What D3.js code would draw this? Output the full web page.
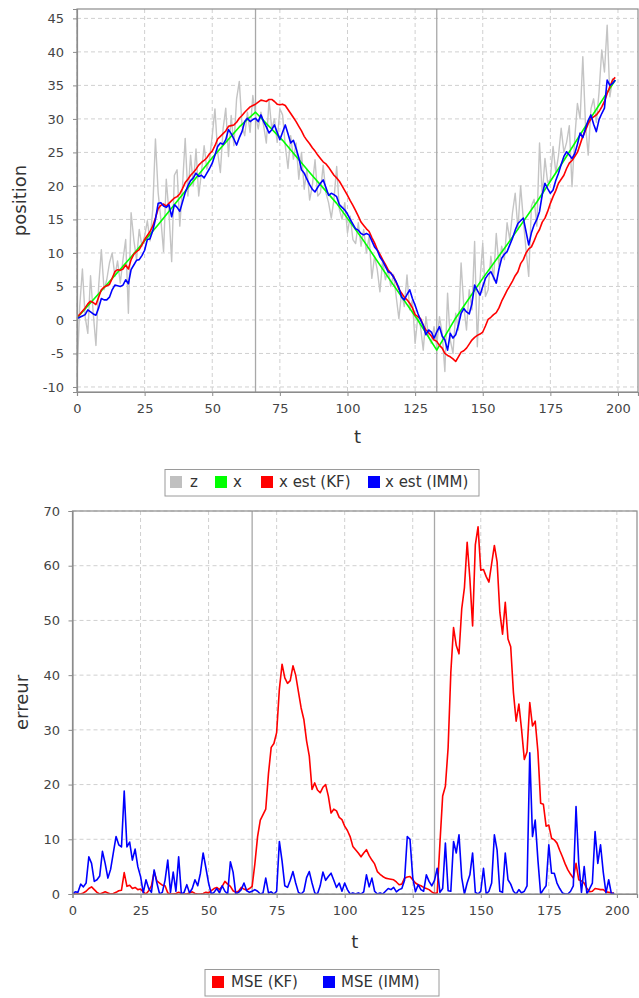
<!DOCTYPE html>
<html>
<head>
<meta charset="utf-8">
<script src="https://cdn.jsdelivr.net/npm/d3@7"></script>
<style>
  body { margin: 0; background: #fff; }
  svg { display: block; }
</style>
</head>
<body>
<svg id="chart" width="639" height="998"></svg>
<script>
// ---- time axis ----
const steps = d3.range(200);
const switchTimes = [66, 133];
const xTicks = [0, 25, 50, 75, 100, 125, 150, 175, 200];

// ---- position panel ----
const posTicks = [-10, -5, 0, 5, 10, 15, 20, 25, 30, 35, 40, 45];

// measurements z
const zMeas = [
  -8.5, 2.0, 7.6, 0.5, -2.0, 6.6, 1.0, -3.8, 5.0, 10.5, 4.5,
  6.0, 8.5, 10.0, 6.5, 8.8, 5.5, 9.0, 12.0, 1.0, 16.0,
  12.0, 9.0, 13.5, 11.0, 12.5, 14.8, 11.8, 16.5, 27.0, 19.0,
  15.0, 10.2, 21.0, 16.0, 8.7, 21.6, 22.4, 14.0, 20.0, 27.1,
  18.5, 24.6, 20.0, 25.5, 18.5, 22.0, 26.0, 22.5, 24.0, 27.5,
  31.5, 25.0, 22.0, 28.5, 31.6, 24.4, 30.5, 26.0, 33.0, 35.6,
  29.0, 27.5, 31.0, 28.0, 33.5, 30.5, 28.5, 31.0, 29.0, 26.4,
  32.8, 28.5, 30.0, 26.5, 31.5, 30.6, 26.0, 22.6, 27.5, 24.0,
  26.4, 21.0, 25.0, 19.5, 22.5, 17.9, 20.0, 23.9, 18.5, 19.0,
  23.1, 19.0, 17.5, 15.2, 18.0, 22.9, 16.5, 15.0, 17.5, 13.0,
  15.5, 12.0, 11.4, 14.5, 11.0, 13.5, 10.0, 12.5, 6.2, 9.5,
  7.5, 4.2, 9.0, 6.0, 7.5, 5.0, 6.8, 3.5, 0.2, 4.0,
  2.0, 6.7, 1.5, 3.0, -3.5, 0.5, -1.0, -4.5, 0.5, -2.5,
  -3.5, -1.0, -4.0, 0.5, -2.0, -7.7, 4.0, -3.0, -5.0, 1.0,
  -1.5, 8.5, 2.0, -1.5, 4.5, 1.5, 11.7, -4.0, 6.0, 11.4,
  3.5, 4.5, 9.5, 6.0, 12.9, 8.0, 11.0, 9.0, 14.5, 12.0,
  16.0, 18.9, 13.5, 20.0, 15.0, 10.5, 6.5, 17.0, 18.0, 14.0,
  26.4, 18.5, 24.1, 20.5, 21.0, 25.9, 22.0, 24.5, 28.6, 25.0,
  26.5, 29.0, 19.9, 27.0, 32.3, 30.0, 39.3, 29.0, 24.6, 31.5,
  33.0, 29.5, 34.0, 40.3, 37.0, 44.0, 33.3, 36.0, 35.5
];

// true position x (read at these steps)
const xTrueT = [0, 10, 20, 30, 40, 50, 60, 66, 76, 86, 96, 106, 116, 126, 133, 140, 150, 160, 170, 180, 190, 199];
const xTrueV = [0.3, 4.8, 9.4, 14.2, 19.2, 24.2, 28.8, 31.0, 26.8, 22.0, 17.4, 11.8, 5.8, 0.0, -4.5, 0.3, 6.2, 11.8, 17.6, 23.8, 30.2, 35.8];

// Kalman filter estimate
const xKF = [
  0.5, 0.8, 1.3, 1.8, 2.4, 2.8, 2.6, 2.3, 3.4, 4.5, 4.9,
  5.1, 5.3, 6.2, 7.2, 7.5, 7.4, 7.6, 8.2, 7.6, 9.0,
  9.8, 10.2, 10.5, 11.2, 12.0, 12.6, 13.2, 14.0, 15.2, 16.6,
  17.1, 17.3, 17.0, 17.4, 17.8, 18.2, 18.4, 18.8, 19.6, 20.5,
  21.0, 21.6, 22.0, 22.5, 23.1, 23.5, 23.8, 24.2, 24.8, 25.2,
  26.0, 27.0, 27.4, 27.8, 28.2, 28.9, 29.0, 29.1, 29.5, 30.1,
  30.5, 31.0, 31.4, 31.8, 32.0, 32.2, 32.5, 32.8, 32.7, 32.6,
  32.9, 32.9, 32.6, 32.2, 32.1, 32.2, 32.0, 31.4, 30.8, 30.2,
  29.6, 28.9, 28.2, 27.4, 26.8, 26.3, 25.7, 25.2, 24.6, 24.1,
  23.6, 23.3, 22.8, 22.2, 21.6, 21.2, 20.7, 20.0, 19.3, 18.6,
  17.8, 17.1, 16.3, 15.5, 14.6, 14.1, 13.6, 13.2, 12.3, 11.5,
  10.5, 9.8, 9.0, 8.3, 7.5, 7.0, 6.5, 5.6, 4.6, 4.0,
  3.4, 3.0, 2.5, 1.8, 0.8, 0.5, 0.2, -0.8, -1.5, -1.9,
  -2.4, -3.0, -3.2, -3.8, -4.2, -5.0, -5.3, -5.5, -5.8, -6.2,
  -5.5, -4.8, -4.6, -4.2, -3.6, -3.0, -2.6, -2.3, -2.1, -1.8,
  -0.9, 0.1, 0.4, 0.8, 1.1, 1.8, 2.8, 3.6, 4.4, 5.1,
  5.8, 6.6, 7.2, 8.4, 9.0, 10.0, 10.6, 10.9, 11.8, 12.8,
  13.5, 14.6, 15.2, 16.2, 17.4, 18.4, 19.3, 20.4, 21.0, 21.6,
  22.6, 23.4, 23.8, 24.4, 25.0, 26.2, 27.4, 28.3, 29.3, 30.0,
  30.3, 30.6, 31.1, 31.8, 32.6, 33.8, 34.8, 35.8, 36.2
];

// IMM estimate
const xIMM = [
  0.2, 0.4, 0.6, 0.8, 1.5, 1.2, 0.9, 0.7, 1.8, 3.2, 3.0,
  3.0, 3.4, 4.5, 5.2, 5.1, 5.0, 5.2, 6.0, 5.4, 7.5,
  8.2, 8.9, 9.0, 9.6, 10.4, 12.0, 12.1, 13.3, 15.0, 17.4,
  17.5, 17.0, 16.8, 17.2, 15.4, 17.2, 16.8, 16.2, 17.6, 19.0,
  20.0, 20.8, 21.2, 21.9, 21.4, 21.6, 21.2, 21.9, 22.6, 23.4,
  24.6, 25.9, 26.4, 26.2, 26.9, 28.4, 27.8, 27.0, 26.1, 27.2,
  28.1, 29.6, 30.1, 29.6, 29.9, 30.1, 29.6, 30.6, 29.6, 28.8,
  27.9, 28.4, 29.1, 28.0, 26.9, 28.0, 29.1, 27.8, 26.4, 26.8,
  25.6, 24.2, 22.4, 21.9, 21.0, 20.2, 19.5, 19.1, 19.8, 20.4,
  20.9, 19.8, 18.6, 18.9, 18.7, 18.4, 17.2, 16.8, 16.4, 15.8,
  15.0, 14.3, 13.6, 13.4, 12.9, 12.7, 12.9, 12.7, 11.8, 10.9,
  10.4, 9.4, 8.8, 8.0, 7.2, 7.0, 6.4, 5.7, 4.8, 3.4,
  3.0, 3.8, 4.5, 3.2, 2.2, 1.0, 0.0, -0.8, -2.2, -1.5,
  -1.8, -2.7, -1.8, -1.0, -2.4, -3.0, -4.5, -2.0, -2.7, -2.2,
  -0.8, 1.0, 1.7, 1.2, 0.9, 2.4, 5.2, 4.4, 3.7, 5.0,
  6.2, 6.8, 7.2, 6.4, 5.5, 7.6, 9.2, 9.8, 10.2, 11.2,
  12.2, 13.4, 14.4, 14.8, 15.2, 13.2, 11.2, 13.0, 14.2, 15.0,
  16.2, 18.7, 20.4, 19.6, 18.9, 19.4, 20.8, 21.9, 23.2, 24.4,
  25.1, 24.6, 24.1, 24.8, 26.2, 27.9, 27.2, 28.6, 29.8, 30.6,
  29.2, 28.1, 29.9, 30.8, 31.6, 35.8, 35.0, 35.3, 35.8
];

// ---- error panel ----
const errTicks = [0, 10, 20, 30, 40, 50, 60, 70];

const mseKF = [
  0, 0, 0, 0, 0.2, 0.5, 1.0, 1.3, 0.8, 0.3, 0,
  0.2, 0.4, 0.2, 0, 0.1, 0.3, 0.6, 0.7, 3.9, 1.4,
  1.6, 1.0, 1.2, 0.8, 0.9, 0.4, 0, 0.6, 1.5, 4.1,
  2.4, 2.0, 1.6, 1.5, 0.2, 0, 0, 0.1, 0.3, 0.1,
  0, 0, 0.2, 0.4, 0.1, 0, 0, 0.1, 0.3, 0.2,
  0.6, 1.0, 1.2, 0.8, 1.4, 2.3, 1.8, 1.4, 0.6, 0.3,
  0.5, 1.2, 0.9, 0.7, 1.0, 1.4, 5.5, 10.5, 13.5, 14.5,
  15.5, 22.0, 26.8, 27.5, 29.5, 37.4, 42.0, 39.5, 38.5, 39.0,
  41.7, 40.0, 37.0, 34.0, 31.9, 28.0, 25.2, 19.1, 20.3, 19.0,
  18.5, 19.5, 20.0, 17.9, 14.8, 15.5, 15.2, 14.0, 13.6, 12.4,
  11.6, 10.5, 8.7, 8.1, 7.5, 6.8, 7.5, 8.1, 7.0, 6.2,
  5.5, 4.1, 3.6, 3.2, 2.9, 2.8, 2.7, 2.6, 2.2, 1.7,
  1.8, 2.9, 3.1, 3.2, 2.6, 2.0, 1.7, 1.5, 1.2, 1.0,
  0.8, 0.4, 0.1, 0.2, 9.3, 17.9, 19.7, 26.7, 40.5, 48.7,
  45.4, 43.9, 52.1, 56.0, 64.3, 57.6, 49.0, 63.8, 67.1, 59.2,
  59.3, 58.0, 57.0, 60.4, 63.7, 60.7, 51.5, 47.5, 53.3, 46.6,
  45.2, 36.8, 31.6, 34.7, 30.0, 24.6, 26.0, 35.0, 30.7, 31.6,
  26.0, 16.6, 16.4, 12.4, 12.6, 10.2, 9.9, 9.3, 8.0, 6.8,
  5.5, 4.4, 3.6, 2.9, 5.6, 2.6, 2.4, 2.0, 1.0, 0.4,
  0.5, 1.0, 0.9, 0.8, 0.8, 0.4, 0.3, 0.2, 0.1
];

const mseIMM = [
  0, 0.4, 0.3, 1.8, 1.3, 2.0, 6.8, 5.6, 2.3, 2.6, 3.3,
  7.8, 5.6, 2.9, 4.5, 7.5, 10.5, 9.0, 8.6, 18.8, 8.6,
  9.5, 6.2, 8.2, 5.0, 3.2, 0.2, 2.6, 1.0, 0.3, 4.4,
  2.0, 0, 0.3, 2.5, 6.2, 0.3, 4.0, 0.5, 6.8, 0,
  0.3, 1.7, 0.2, 1.0, 2.6, 1.5, 3.8, 7.5, 4.8, 2.0,
  0, 0.3, 1.0, 0.2, 1.5, 0.5, 0, 5.9, 4.0, 0,
  0.3, 0.8, 2.0, 0.6, 0.3, 0.5, 0.8, 0.5, 0, 0.2,
  2.9, 0.2, 0.4, 0, 0.5, 9.6, 6.0, 1.5, 1.2, 2.5,
  4.1, 2.0, 0.3, 0, 0.5, 3.0, 4.1, 2.0, 0.2, 0,
  1.5, 4.0, 2.5, 3.2, 3.8, 2.5, 1.2, 2.0, 0.5, 2.0,
  0.8, 0, 0.2, 0, 0.2, 0, 0.4, 3.5, 1.3, 2.9,
  0.5, 0, 0.2, 0, 0.5, 1.0, 0.8, 1.2, 0.4, 0.8,
  1.0, 2.5, 10.5, 10.0, 3.0, 0.4, 1.7, 0.8, 0.5, 3.5,
  2.3, 1.5, 2.5, 4.7, 0.3, 1.0, 9.3, 0.6, 0.5, 9.6,
  7.5, 10.8, 3.0, 0, 2.0, 3.5, 7.5, 0.3, 0, 0.5,
  4.7, 0, 0.5, 2.0, 10.8, 8.0, 0.5, 0.3, 7.5, 2.6,
  1.8, 0.5, 0, 0.8, 0.2, 0.5, 1.5, 25.8, 10.5, 13.5,
  6.2, 0, 0.8, 1.5, 9.0, 3.8, 3.8, 2.0, 1.0, 0.2,
  0, 0, 0.5, 1.5, 16.0, 5.6, 0.3, 5.0, 0, 1.0,
  2.0, 11.4, 5.6, 9.0, 4.0, 0.2, 2.6, 0, 0.2
];

// ---- drawing ----
const FONT = '"DejaVu Sans", Verdana, sans-serif';
const svg = d3.select("#chart").style("font-family", FONT);
svg.append("rect").attr("width", 639).attr("height", 998).attr("fill", "#fff");

function drawPanel(o) {
  const x = d3.scaleLinear().domain(o.xDomain).range([o.left, o.right]);
  const y = d3.scaleLinear().domain(o.yDomain).range([o.bottom, o.top]);
  const g = svg.append("g");

  // dashed grid
  g.append("g").selectAll("line").data(o.xTicks).join("line")
    .attr("x1", d => x(d)).attr("x2", d => x(d))
    .attr("y1", o.top).attr("y2", o.bottom)
    .attr("stroke", "#d0d0d0").attr("stroke-dasharray", "4,3");
  g.append("g").selectAll("line").data(o.yTicks).join("line")
    .attr("x1", o.left).attr("x2", o.right)
    .attr("y1", d => y(d)).attr("y2", d => y(d))
    .attr("stroke", "#d0d0d0").attr("stroke-dasharray", "4,3");

  // regime switch markers
  g.append("g").selectAll("line").data(switchTimes).join("line")
    .attr("x1", d => x(d)).attr("x2", d => x(d))
    .attr("y1", o.top).attr("y2", o.bottom)
    .attr("stroke", "#a8a8a8").attr("stroke-width", 1.3);

  // series
  const clipId = "clip" + o.id;
  svg.append("clipPath").attr("id", clipId).append("rect")
    .attr("x", o.left).attr("y", o.top)
    .attr("width", o.right - o.left).attr("height", o.bottom - o.top);
  const sg = g.append("g").attr("clip-path", `url(#${clipId})`);
  o.series.forEach(s => {
    const line = d3.line().x(d => x(d[0])).y(d => y(d[1]));
    sg.append("path")
      .datum(s.t.map((t, i) => [t, s.v[i]]))
      .attr("d", line)
      .attr("fill", "none")
      .attr("stroke", s.color)
      .attr("stroke-width", s.width || 1.5)
      .attr("stroke-linejoin", "round");
  });

  // plot outline
  g.append("rect")
    .attr("x", o.left).attr("y", o.top)
    .attr("width", o.right - o.left).attr("height", o.bottom - o.top)
    .attr("fill", "none").attr("stroke", "#8c8c8c").attr("stroke-width", 1.2);

  // axes
  const ax = g.append("g").attr("transform", `translate(0,${o.bottom})`)
    .call(d3.axisBottom(x).tickValues(o.xTicks).tickSize(4).tickPadding(8)
      .tickFormat(d => String(d)));
  const ay = g.append("g").attr("transform", `translate(${o.left},0)`)
    .call(d3.axisLeft(y).tickValues(o.yTicks).tickSize(4).tickPadding(o.yPad)
      .tickFormat(d => String(d)));
  [ax, ay].forEach(a => {
    a.select(".domain").attr("stroke", "#8c8c8c").attr("stroke-width", 1.2);
    a.selectAll(".tick line").attr("stroke", "#8c8c8c");
    a.selectAll(".tick text").attr("fill", "#444").attr("font-size", 13)
      .attr("font-family", FONT);
  });

  // axis titles
  g.append("text")
    .attr("x", (o.left + o.right) / 2).attr("y", o.xTitleY)
    .attr("text-anchor", "middle").attr("font-size", 18).attr("fill", "#333")
    .text(o.xTitle);
  g.append("text")
    .attr("transform", `translate(${o.yTitleX},${(o.top + o.bottom) / 2}) rotate(-90)`)
    .attr("text-anchor", "middle").attr("font-size", 18).attr("fill", "#333")
    .text(o.yTitle);

  // legend
  const lg = g.append("g");
  lg.append("rect")
    .attr("x", o.legend.x).attr("y", o.legend.y)
    .attr("width", o.legend.w).attr("height", o.legend.h)
    .attr("fill", "#fff").attr("stroke", "#9a9a9a");
  o.legend.items.forEach(it => {
    lg.append("rect")
      .attr("x", it.sx).attr("y", o.legend.y + 6.5)
      .attr("width", 12).attr("height", 12).attr("fill", it.color);
    lg.append("text")
      .attr("x", it.tx).attr("y", o.legend.y + 17.5)
      .attr("font-size", 15).attr("fill", "#333")
      .text(it.label);
  });
}

drawPanel({
  id: "pos",
  left: 77, right: 638, top: 9, bottom: 392,
  xDomain: [0, 207.4], yDomain: [-10.75, 46.4],
  xTicks: xTicks, yTicks: posTicks, yPad: 9,
  xTitle: "t", xTitleY: 443,
  yTitle: "position", yTitleX: 26,
  series: [
    { t: steps, v: zMeas, color: "#c4c4c4", width: 1.4 },
    { t: xTrueT, v: xTrueV, color: "#00ff00", width: 1.6 },
    { t: steps, v: xKF, color: "#ff0000", width: 1.6 },
    { t: steps, v: xIMM, color: "#0000ff", width: 1.6 }
  ],
  legend: {
    x: 165, y: 469.5, w: 314, h: 26.5,
    items: [
      { sx: 170, tx: 190, color: "#c0c0c0", label: "z" },
      { sx: 215, tx: 233, color: "#00ff00", label: "x" },
      { sx: 261, tx: 279, color: "#ff0000", label: "x est (KF)" },
      { sx: 368, tx: 385, color: "#0000ff", label: "x est (IMM)" }
    ]
  }
});

drawPanel({
  id: "err",
  left: 72.5, right: 637, top: 511, bottom: 894,
  xDomain: [0, 207.4], yDomain: [0, 70],
  xTicks: xTicks, yTicks: errTicks, yPad: 8.5,
  xTitle: "t", xTitleY: 948,
  yTitle: "erreur", yTitleX: 28,
  series: [
    { t: steps, v: mseKF, color: "#ff0000", width: 1.6 },
    { t: steps, v: mseIMM, color: "#0000ff", width: 1.6 }
  ],
  legend: {
    x: 205, y: 969.5, w: 234, h: 26.5,
    items: [
      { sx: 212, tx: 231, color: "#ff0000", label: "MSE (KF)" },
      { sx: 323, tx: 341, color: "#0000ff", label: "MSE (IMM)" }
    ]
  }
});
</script>
</body>
</html>
